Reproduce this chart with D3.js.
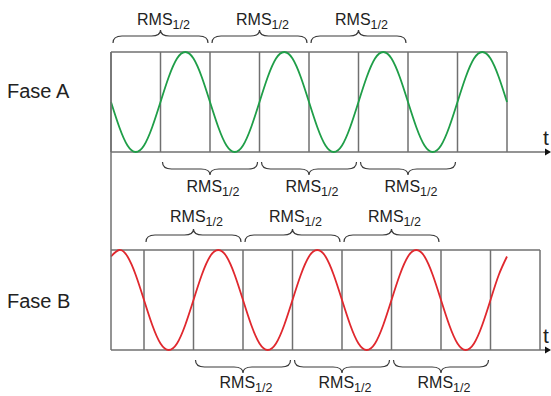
<!DOCTYPE html>
<meta charset="utf-8">
<style>
body { margin: 0; background: #fff; }
text { font-family: "Liberation Sans", Arial, sans-serif; fill: #222; }
.grid { stroke: #707070; stroke-width: 1.5; fill: none; }
.brace { stroke: #3a3a3a; stroke-width: 1.2; fill: none; }
</style>
<body>
<script src="https://d3js.org/d3.v7.min.js"></script>
<script>
// electrical angle samples (degrees), 30 degree steps
var step = 30;
var faseA = [0,-0.5,-0.87,-1,-0.87,-0.5,0,0.5,0.87,1,0.87,0.5,
             0,-0.5,-0.87,-1,-0.87,-0.5,0,0.5,0.87,1,0.87,0.5,
             0,-0.5,-0.87,-1,-0.87,-0.5,0,0.5,0.87,1,0.87,0.5,
             0,-0.5,-0.87,-1,-0.87,-0.5,0,0.5,0.87,1,0.87,0.5, 0];
var faseB = [0.87,1,0.87,0.5,0,-0.5,-0.87,-1,-0.87,-0.5,0,0.5,
             0.87,1,0.87,0.5,0,-0.5,-0.87,-1,-0.87,-0.5,0,0.5,
             0.87,1,0.87,0.5,0,-0.5,-0.87,-1,-0.87,-0.5,0,0.5,
             0.87,1,0.87,0.5,0,-0.5,-0.87,-1,-0.87,-0.5,0,0.5, 0.87];

// half-cycle grid (zero crossings)
var gridA = [0,180,360,540,720,900,1080,1260,1440];
var gridB = [120,300,480,660,840,1020,1200,1380,1560];

// one-cycle RMS windows refreshed every half cycle
var rmsAtop = [[0,360],[360,720],[720,1080]];
var rmsAbottom = [[180,540],[540,900],[900,1260]];
var rmsBtop = [[120,480],[480,840],[840,1200]];
var rmsBbottom = [[300,660],[660,1020],[1020,1380]];

var labels = ["Fase A", "Fase B"];

var width = 551, height = 396;
var svg = d3.select("body").append("svg")
    .attr("width", width)
    .attr("height", height);

var x = d3.scaleLinear().domain([0, 1440]).range([111, 507]);
var yA = d3.scaleLinear().domain([-1, 1]).range([152, 52]);
var yB = d3.scaleLinear().domain([-1, 1]).range([350, 250]);

function bracePath(x0, x1, yEnd, dir) {
  // dir = -1 brace points up, +1 brace points down
  var xm = (x0 + x1) / 2, q = 9;
  var yFlat = yEnd + dir * 7, yCusp = yFlat + dir * 6;
  return "M" + x0 + "," + yEnd +
    " Q" + x0 + "," + yFlat + " " + (x0 + q) + "," + yFlat +
    " L" + (xm - q) + "," + yFlat +
    " Q" + xm + "," + yFlat + " " + xm + "," + yCusp +
    " Q" + xm + "," + yFlat + " " + (xm + q) + "," + yFlat +
    " L" + (x1 - q) + "," + yFlat +
    " Q" + x1 + "," + yFlat + " " + x1 + "," + yEnd;
}

function drawRms(spans, yEnd, dir, baseline) {
  var g = svg.append("g");
  g.selectAll("path").data(spans).enter().append("path")
    .attr("class", "brace")
    .attr("d", function(d) { return bracePath(x(d[0]) + 2, x(d[1]) - 2, yEnd, dir); });
  var t = g.selectAll("text").data(spans).enter().append("text")
    .attr("x", function(d) { return x((d[0] + d[1]) / 2) + 3; })
    .attr("y", baseline)
    .attr("text-anchor", "middle")
    .style("font-size", "16px");
  t.append("tspan").text("RMS");
  t.append("tspan").attr("dy", 3.5).style("font-size", "12.5px").text("1/2");
}

function drawPanel(values, grid, yS, color, xEnd) {
  var g = svg.append("g");
  var y0 = yS.range()[0], y1 = yS.range()[1];
  // top border
  g.append("line").attr("class", "grid")
    .attr("x1", x(0)).attr("x2", x(xEnd)).attr("y1", y1).attr("y2", y1);
  g.selectAll(".v").data(grid).enter().append("line")
    .attr("class", "grid")
    .attr("x1", function(d) { return x(d); }).attr("x2", function(d) { return x(d); })
    .attr("y1", y1).attr("y2", y0);
  // time axis with arrow
  g.append("line").attr("class", "grid")
    .attr("x1", x(0)).attr("x2", 546).attr("y1", y0).attr("y2", y0);
  g.append("path")
    .attr("d", "M545," + (y0 - 3.5) + " L551," + y0 + " L545," + (y0 + 3.5) + "Z")
    .attr("fill", "#111");
  g.append("text").attr("x", 543).attr("y", y0 - 7)
    .style("font-size", "21px").text("t");

  var line = d3.line()
    .x(function(d, i) { return x(i * step); })
    .y(function(d) { return yS(d); })
    .curve(d3.curveNatural);
  g.append("path").datum(values)
    .attr("d", line)
    .attr("fill", "none")
    .attr("stroke", color)
    .attr("stroke-width", 1.8);
}

drawPanel(faseA, gridA, yA, "#1f9e48", 1440);
drawPanel(faseB, gridB, yB, "#e0282e", 1560);

// left vertical line through both panels
svg.append("line").attr("class", "grid")
  .attr("x1", x(0)).attr("x2", x(0)).attr("y1", yA.range()[1]).attr("y2", yB.range()[0]);

drawRms(rmsAtop, 43, -1, 25);
drawRms(rmsAbottom, 162, 1, 192);
drawRms(rmsBtop, 242, -1, 222);
drawRms(rmsBbottom, 360, 1, 388);

svg.append("text").attr("x", 7).attr("y", 98).style("font-size", "20px").text(labels[0]);
svg.append("text").attr("x", 7).attr("y", 308).style("font-size", "20px").text(labels[1]);
</script>
</body>
